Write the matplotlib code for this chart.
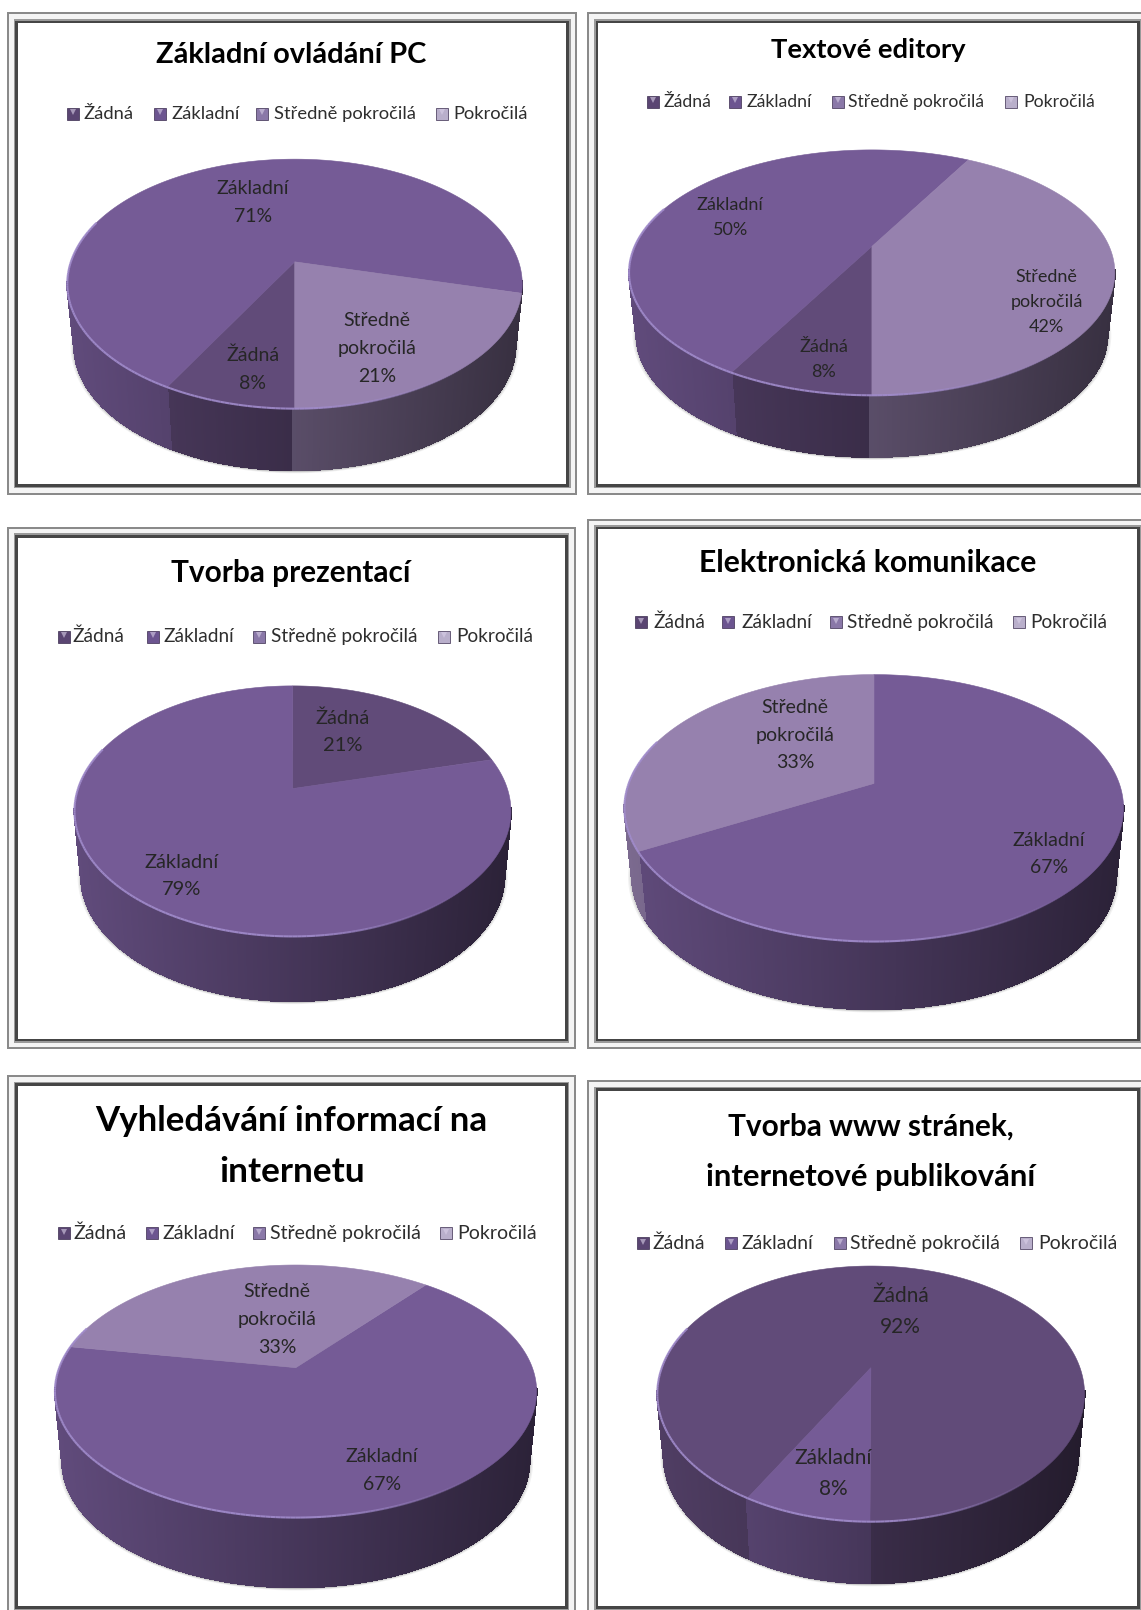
import numpy as np
import matplotlib
matplotlib.use('Agg')
import matplotlib.pyplot as plt
from matplotlib.collections import PolyCollection, LineCollection
from matplotlib.colors import to_rgb
from matplotlib.patches import Rectangle

plt.rcParams['font.family'] = ['Lato', 'DejaVu Sans']

# Data
categories = ['Žádná', 'Základní', 'Středně pokročilá', 'Pokročilá']
titles = ['Základní ovládání PC', 'Textové editory', 'Tvorba prezentací',
          'Elektronická komunikace', 'Vyhledávání informací na\ninternetu',
          'Tvorba www stránek,\ninternetové publikování']
values_pc = [8, 71, 21, 0]
values_text = [8, 50, 42, 0]
values_prez = [21, 79, 0, 0]
values_mail = [0, 67, 33, 0]
values_search = [0, 67, 33, 0]
values_www = [92, 8, 0, 0]
all_values = [values_pc, values_text, values_prez, values_mail, values_search, values_www]

# Colors
top_colors = ['#614B79', '#755B96', '#9681AE', '#B4A7C8']
legend_colors = ['#5A4572', '#6C5590', '#8A78A8', '#B9AFCB']

# Layout, in pixels of the 1111x1568 view
W, H = 1111, 1568
SCALE = 1141 / 1111
frames = [(7, 12, 562, 482), (572, 12, 1118, 482), (7, 513, 561, 1022),
          (572, 505, 1118, 1022), (7, 1047, 561, 1575), (572, 1052, 1118, 1575)]
# left, right, top, bottom of the ellipse, apex x, apex y, depth, first angle
pies = [(65, 508, 155, 398, 287, 255, 60, 180),
        (613, 1086, 146, 385, 849, 240, 60, 180),
        (72, 497, 668, 912, 285, 768, 63, 0),
        (608, 1094, 657, 917, 851, 763, 66, 0),
        (55, 524, 1232, 1478, 288, 1332, 68, 39),
        (640, 1056, 1233, 1482, 848, 1332, 60, 209)]
title_pos = [[(284, 54, 263)], [(845, 49, 190)], [(283, 558, 233)], [(845, 548, 328)],
             [(284, 1092, 382), (284, 1141, 142)], [(848, 1097, 278), (848, 1146, 320)]]
legend_y = [111, 99, 620, 606, 1201, 1211]
legend_marker_x = [(71, 156, 255, 430), (636, 716, 816, 984), (62, 149, 252, 432),
                   (624, 709, 814, 992), (62, 148, 252, 434), (626, 712, 818, 999)]
legend_text_x = [(81, 167, 267, 441), (646, 727, 826, 996), (71, 159, 264, 444),
                 (636, 722, 825, 1003), (72, 158, 263, 445), (635, 722, 828, 1011)]
legend_width = [138, 132, 142, 142, 146, 145]
# per chart: category index -> label center
label_pos = [{1: (246, 197), 0: (246, 360), 2: (367, 339)},
             {1: (711, 212), 0: (802, 350), 2: (1019, 294)},
             {0: (334, 713), 1: (177, 853)},
             {2: (774, 716), 1: (1021, 832)},
             {2: (270, 1285), 1: (372, 1432)},
             {0: (877, 1277), 1: (811, 1435)}]
label_size = [14, 13, 14.5, 14, 14, 15]
label_spacing = [1.78, 1.7, 1.7, 1.74, 1.78, 1.7]

fig = plt.figure(figsize=(11.41, 16.10), dpi=100)
ax = fig.add_axes([0, 0, 1, 1])
ax.set_xlim(0, W)
ax.set_ylim(H, 0)
ax.axis('off')


def shade(color, f):
    return tuple(c * f for c in to_rgb(color))


def draw_frame(x0, y0, x1, y1):
    layers = [(0, '#8A8A8A'), (2, '#F4F4F4'), (6.5, '#9A9A9A'), (8, '#454545'), (10.5, 'white')]
    for inset, color in layers:
        ax.add_patch(Rectangle((x0 + inset, y0 + inset), x1 - x0 - 2 * inset, y1 - y0 - 2 * inset,
                               fc=color, ec='none', zorder=1))


def make_projection(left, right, top, bottom, ax_x, ax_y):
    a, b = ax_y - top, bottom - ax_y
    h = 2 * a * b / (a + b)
    k = h / a - 1
    w = (right - left) / 2 * np.sqrt(1 - k ** 2)

    def project(theta, dy=0):
        u, v = np.sin(np.radians(theta)), np.cos(np.radians(theta))
        return ax_x + w * u / (1 + k * v), ax_y - h * v / (1 + k * v) + dy
    return project, k


def draw_pie(values, geom):
    left, right, top, bottom, ax_x, ax_y, depth, start = geom
    project, k = make_projection(left, right, top, bottom, ax_x, ax_y)
    taper = 0.97
    total = sum(values)
    angle = start
    spans = []
    for i, val in enumerate(values):
        if val == 0:
            continue
        spans.append((i, angle, angle + val / total * 360))
        angle += val / total * 360

    # soft shadow under the side
    th = np.linspace(0, 360, 361)
    x, y = project(th, depth)
    x = ax_x + (x - ax_x) * taper
    cx, cy = (left + right) / 2, (top + bottom) / 2 + depth
    for grow, alpha in [(1.016, 0.08), (1.01, 0.12), (1.005, 0.2)]:
        ax.fill(cx + (x - cx) * grow, cy + (y - cy) * grow + 1, color='#555555', alpha=alpha, lw=0, zorder=2)

    # side wall
    quads, cols = [], []
    for i, a0, a1 in spans:
        steps = np.arange(a0, a1 + 0.5, 0.5)
        for t0, t1 in zip(steps[:-1], steps[1:]):
            if np.cos(np.radians((t0 + t1) / 2)) > -k + 0.02:
                continue
            x0, y0 = project(t0)
            x1, y1 = project(t1)
            bx0 = ax_x + (x0 - ax_x) * taper
            bx1 = ax_x + (x1 - ax_x) * taper
            quads.append([(x0, y0), (x1, y1), (bx1, y1 + depth), (bx0, y0 + depth)])
            pos = ((x0 + x1) / 2 - left) / (right - left)
            cols.append(shade(top_colors[i], 0.82 - 0.45 * pos))
    ax.add_collection(PolyCollection(quads, facecolors=cols, edgecolors=cols, linewidths=0.8,
                                     antialiaseds=False, zorder=3))

    # top face
    for i, a0, a1 in spans:
        t = np.linspace(a0, a1, max(int(a1 - a0) * 2, 2))
        x, y = project(t)
        ax.fill(np.r_[ax_x, x], np.r_[ax_y, y], color=top_colors[i], lw=0.4, zorder=4)

    # light rim on the front edge, fading to the right
    segs, seg_cols, t = [], [], np.arange(90, 291, 1.0)
    x, y = project(t)
    for j in range(len(t) - 1):
        pos = (x[j] - left) / (right - left)
        segs.append([(x[j], y[j]), (x[j + 1], y[j + 1])])
        f = min(1.0, max(0.0, (0.9 - pos) / 0.35))
        seg_cols.append((0.63, 0.55, 0.80, 0.9 * f))
    ax.add_collection(LineCollection(segs, colors=seg_cols, linewidths=1.5, zorder=5))


def fit_text(txt, width):
    r = fig.canvas.get_renderer()
    txt.set_fontsize(txt.get_fontsize() * width * SCALE / txt.get_window_extent(r).width)
    return txt


for n, values in enumerate(all_values):
    draw_frame(*frames[n])
    draw_pie(values, pies[n])

    # title, one text per line
    for line, (x, y, width) in zip(titles[n].split('\n'), title_pos[n]):
        t = ax.text(x, y, line, ha='center', va='center', fontweight='bold', fontsize=20, color='black', zorder=7)
        fit_text(t, width)

    # legend
    ly = legend_y[n]
    fs = None
    legend_texts = []
    for i, cat in enumerate(categories):
        ax.plot(legend_marker_x[n][i], ly, marker='s', ms=8, color=legend_colors[i], mec='#3A2C4E', mew=0.5, zorder=7)
        ax.plot(legend_marker_x[n][i], ly - 1.5, marker='v', ms=4.5, color='#D9D0E8', alpha=0.6, mew=0, zorder=8)
        t = ax.text(legend_text_x[n][i], ly, cat, ha='left', va='center', fontsize=12, color='#2E2E2E', zorder=7)
        legend_texts.append(t)
        if i == 2:
            fit_text(t, legend_width[n])
            fs = t.get_fontsize()
    for t in legend_texts:
        t.set_fontsize(fs)

    # slice labels
    for i, (x, y) in label_pos[n].items():
        name = 'Středně\npokročilá' if i == 2 else categories[i]
        ax.text(x, y, f'{name}\n{values[i]}%', ha='center', va='center', fontsize=label_size[n],
                linespacing=label_spacing[n], color='#262626', zorder=7)

fig.savefig('out.png', dpi=100, facecolor='white')
